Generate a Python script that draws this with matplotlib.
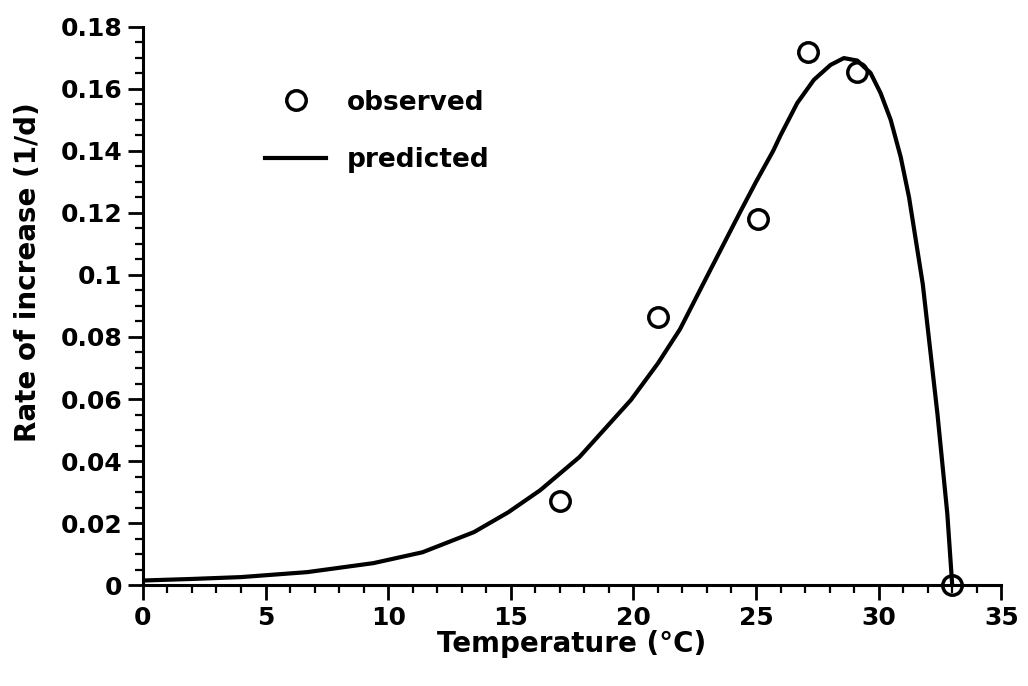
import numpy as np
import matplotlib
matplotlib.use("Agg")
import matplotlib.pyplot as plt
from matplotlib.ticker import MultipleLocator, FuncFormatter

# observed rates of increase
obs_temp = [17.0, 21.0, 25.1, 27.1, 29.1, 33.0]
obs_rate = [0.027, 0.0865, 0.118, 0.172, 0.1655, 0.0]

# predicted curve
pred_temp = [0, 2, 4, 6.7, 9.4, 11.4, 13.5, 14.9, 16.2, 17.8, 19.9, 21.0,
             21.9, 23.0, 24.4, 25.0, 25.7, 26.0, 26.68, 27.36, 28.04, 28.58,
             29.13, 29.67, 30.08, 30.49, 30.9, 31.24, 31.8, 32.1, 32.4, 32.8,
             33.0]
pred_rate = [0.0015, 0.002, 0.0026, 0.0042, 0.0071, 0.0106, 0.0171, 0.0235,
             0.0306, 0.0413, 0.0597, 0.0715, 0.0825, 0.0995, 0.121, 0.130,
             0.140, 0.145, 0.1554, 0.1629, 0.1677, 0.1699, 0.1691, 0.1651,
             0.1586, 0.150, 0.138, 0.125, 0.097, 0.076, 0.055, 0.023, 0.0]

plt.rcParams['font.family'] = ['DejaVu Sans']
plt.rcParams['font.weight'] = 'bold'

fig = plt.figure(figsize=(10.28, 6.86), dpi=100)
ax = fig.add_axes([0.139, 0.147, 0.835, 0.814])

ax.plot(pred_temp, pred_rate, color='black', lw=3, label='predicted',
        solid_joinstyle='round', zorder=2)
ax.plot(obs_temp, obs_rate, 'o', ms=14, mfc='none', mec='black', mew=2.5,
        label='observed', zorder=3, clip_on=False)

ax.set_xlim(0, 35)
ax.set_ylim(0, 0.18)
ax.xaxis.set_major_locator(MultipleLocator(5))
ax.xaxis.set_minor_locator(MultipleLocator(1))
ax.yaxis.set_major_locator(MultipleLocator(0.02))
ax.yaxis.set_minor_locator(MultipleLocator(0.005))
ax.yaxis.set_major_formatter(FuncFormatter(lambda v, p: '%g' % round(v, 2)))

for s in ['top', 'right']:
    ax.spines[s].set_visible(False)
for s in ['left', 'bottom']:
    ax.spines[s].set_linewidth(2.2)

ax.tick_params(which='major', direction='out', length=11, width=2, labelsize=18, pad=4)
ax.tick_params(which='minor', direction='out', length=5.5, width=1.6)

ax.set_xlabel('Temperature (°C)', fontsize=20, fontweight='bold', labelpad=0)
ax.set_ylabel('Rate of increase (1/d)', fontsize=20, fontweight='bold')
ax.yaxis.set_label_coords(-0.118, 0.56)

h, l = ax.get_legend_handles_labels()
ax.legend(h[::-1], l[::-1], loc='upper left', bbox_to_anchor=(0.115, 0.93),
          frameon=False, handlelength=2.3, labelspacing=1.2,
          handletextpad=0.8, prop={'weight': 'bold', 'size': 19})

plt.savefig('out.png', dpi=100)
